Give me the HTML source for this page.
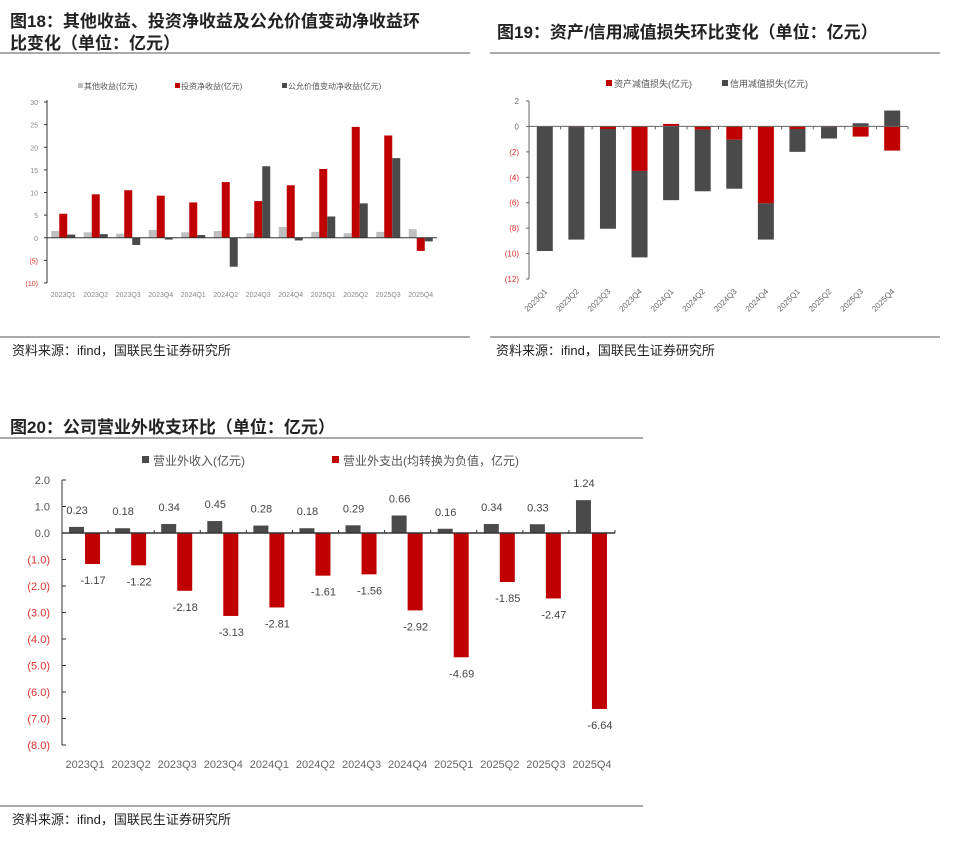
<!DOCTYPE html>
<html><head><meta charset="utf-8">
<style>
body{margin:0;background:#fff;width:963px;height:841px;overflow:hidden;font-family:"Liberation Sans","Noto Sans CJK SC",sans-serif;}
svg{position:absolute;left:0;top:0}
</style></head>
<body>
<svg id="s" width="963" height="841">
<g font-weight="bold" font-size="17" fill="#222">
<text x="10" y="27">图18：其他收益、投资净收益及公允价值变动净收益环</text>
<text x="10" y="49">比变化（单位：亿元）</text>
</g>
<line x1="0" y1="53" x2="470" y2="53" stroke="#555"/>
<text x="497" y="38" font-weight="bold" font-size="17" fill="#222">图19：资产/信用减值损失环比变化（单位：亿元）</text>
<line x1="490" y1="53" x2="940" y2="53" stroke="#555"/>
<line x1="0" y1="337" x2="470" y2="337" stroke="#555"/>
<line x1="490" y1="337" x2="940" y2="337" stroke="#555"/>
<text x="12" y="355" font-size="13" fill="#222">资料来源：ifind，国联民生证券研究所</text>
<text x="496" y="355" font-size="13" fill="#222">资料来源：ifind，国联民生证券研究所</text>
<text x="10" y="433" font-weight="bold" font-size="17" fill="#222">图20：公司营业外收支环比（单位：亿元）</text>
<line x1="0" y1="438" x2="643" y2="438" stroke="#555"/>
<line x1="0" y1="806" x2="643" y2="806" stroke="#555"/>
<text x="12" y="824" font-size="13" fill="#222">资料来源：ifind，国联民生证券研究所</text>
<g id="c18"></g>
<g id="c19"></g>
<g id="c20"></g>
</svg>
<script>
const cats=["2023Q1","2023Q2","2023Q3","2023Q4","2024Q1","2024Q2","2024Q3","2024Q4","2025Q1","2025Q2","2025Q3","2025Q4"];
const otherIncome=[1.5,1.2,0.9,1.7,1.2,1.5,1.0,2.4,1.3,1.0,1.3,1.9];
const investIncome=[5.3,9.6,10.5,9.3,7.8,12.3,8.1,11.6,15.2,24.5,22.6,-2.9];
const fvChange=[0.7,0.8,-1.6,-0.4,0.6,-6.4,15.8,-0.6,4.7,7.6,17.6,-0.8];
const ticks18=[30,25,20,15,10,5,0,-5,-10];
const assetLoss=[0,-0.05,-0.2,-3.5,0.2,-0.25,-1.05,-6.05,-0.2,-0.05,-0.8,-1.9];
const creditLoss=[-9.8,-8.85,-7.85,-6.8,-5.8,-4.85,-3.85,-2.85,-1.8,-0.9,0.25,1.25];
const ticks19=[2,0,-2,-4,-6,-8,-10,-12];
const nonOpIncome=[0.23,0.18,0.34,0.45,0.28,0.18,0.29,0.66,0.16,0.34,0.33,1.24];
const nonOpExpense=[-1.17,-1.22,-2.18,-3.13,-2.81,-1.61,-1.56,-2.92,-4.69,-1.85,-2.47,-6.64];
const ticks20=[2,1,0,-1,-2,-3,-4,-5,-6,-7,-8];
const NS="http://www.w3.org/2000/svg";
function el(p,t,a,txt){const e=document.createElementNS(NS,t);for(const k in a)e.setAttribute(k,a[k]);if(txt!==undefined)e.textContent=txt;p.appendChild(e);return e;}
function fmt(v,d){return v<0?"("+Math.abs(v).toFixed(d)+")":v.toFixed(d);}

// Chart 18
(function(){
const g=document.getElementById('c18');
const x0=47,x1=437,yT=102,yB=283,vT=30,vB=-10;
const y=v=>yT+(vT-v)*(yB-yT)/(vT-vB);const gw=(x1-x0)/cats.length;
el(g,'line',{x1:x0,y1:yT-2,x2:x0,y2:yB,stroke:'#333'});
ticks18.forEach(t=>{const e=el(g,'text',{x:x0-9,y:y(t)+3,'font-size':7,'text-anchor':'end',fill:t<0?'#e03030':'#888'},fmt(t,0));


el(g,'line',{x1:x0-3,y1:y(t),x2:x0,y2:y(t),stroke:'#333'});});
const ser=[[otherIncome,'#bfbfbf','other-income'],[investIncome,'#c00000','investment-income'],[fvChange,'#4a4a4a','fair-value-change']];
cats.forEach((c,i)=>{const cx=x0+gw*(i+0.5);
ser.forEach((s,j)=>{const v=s[0][i];const bx=cx-12+j*8;const r=el(g,'rect',{x:bx,y:Math.min(y(v),y(0)),width:8,height:Math.abs(y(v)-y(0)),fill:s[1]});

});
const t=el(g,'text',{x:cx,y:297,'font-size':7,'text-anchor':'middle',fill:'#888'},c);

});
el(g,'line',{x1:x0,y1:y(0),x2:x1,y2:y(0),stroke:'#333'});
const lg=[[78,'#bfbfbf','其他收益(亿元)'],[175,'#c00000','投资净收益(亿元)'],[282,'#4a4a4a','公允价值变动净收益(亿元)']];
lg.forEach(l=>{el(g,'rect',{x:l[0],y:83,width:5,height:5,fill:l[1]});const t=el(g,'text',{x:l[0]+6,y:89,'font-size':8,fill:'#555'},l[2]);

});
})();

// Chart 19
(function(){
const g=document.getElementById('c19');
const x0=529,x1=908,yT=101,yB=279,vT=2,vB=-12;
const y=v=>yT+(vT-v)*(yB-yT)/(vT-vB);const gw=(x1-x0)/cats.length;
el(g,'line',{x1:x0,y1:yT,x2:x0,y2:yB,stroke:'#666'});
ticks19.forEach(t=>{const e=el(g,'text',{x:x0-10,y:y(t)+3,'font-size':8,'text-anchor':'end',fill:t<0?'#e03030':'#666'},fmt(t,0));


el(g,'line',{x1:x0-3,y1:y(t),x2:x0,y2:y(t),stroke:'#666'});});
cats.forEach((c,i)=>{const cx=x0+gw*(i+0.5);const a=assetLoss[i],cr=creditLoss[i];
let pos=0,neg=0;
[[a,'#c00000','asset-impairment'],[cr,'#4a4a4a','credit-impairment']].forEach(s=>{const v=s[0];let b0,b1;
if(v>=0){b0=pos;b1=pos+v;pos=b1;}else{b0=neg;b1=neg+v;neg=b1;}
const r=el(g,'rect',{x:cx-8,y:Math.min(y(b0),y(b1)),width:16,height:Math.abs(y(b1)-y(b0)),fill:s[1]});

});
const lx=cx+3,ly=292;const t=el(g,'text',{x:lx,y:ly,'font-size':8,'text-anchor':'end',fill:'#666',transform:`rotate(-45 ${lx} ${ly})`},c);


el(g,'line',{x1:x0+gw*(i+1),y1:y(0),x2:x0+gw*(i+1),y2:y(0)+3,stroke:'#666'});});
el(g,'line',{x1:x0,y1:y(0),x2:x1,y2:y(0),stroke:'#666'});
[[606,'#c00000','资产减值损失(亿元)'],[722,'#4a4a4a','信用减值损失(亿元)']].forEach(l=>{el(g,'rect',{x:l[0],y:80,width:6,height:6,fill:l[1]});const t=el(g,'text',{x:l[0]+8,y:87,'font-size':9,fill:'#555'},l[2]);

});
})();

// Chart 20
(function(){
const g=document.getElementById('c20');
const x0=62,x1=615,yT=480,yB=745,vT=2,vB=-8;
const y=v=>yT+(vT-v)*(yB-yT)/(vT-vB);const gw=(x1-x0)/cats.length;
el(g,'line',{x1:x0,y1:yT,x2:x0,y2:yB,stroke:'#333'});
ticks20.forEach(t=>{const e=el(g,'text',{x:x0-12,y:y(t)+4,'font-size':11,'text-anchor':'end',fill:t<0?'#e03030':'#555'},fmt(t,1));


el(g,'line',{x1:x0,y1:y(t),x2:x0+4,y2:y(t),stroke:'#333'});});
cats.forEach((c,i)=>{const cx=x0+gw*(i+0.5);const a=nonOpIncome[i],b=nonOpExpense[i];
const r1=el(g,'rect',{x:cx-16,y:y(a),width:15,height:y(0)-y(a),fill:'#4a4a4a'});


const r2=el(g,'rect',{x:cx,y:y(0),width:15,height:y(b)-y(0),fill:'#c00000'});


const t1=el(g,'text',{x:cx-8,y:y(a)-13,'font-size':11,'text-anchor':'middle',fill:'#444'},a.toFixed(2));


const t2=el(g,'text',{x:cx+8,y:y(b)+20,'font-size':11,'text-anchor':'middle',fill:'#444'},b.toFixed(2));


const t3=el(g,'text',{x:cx,y:768,'font-size':11,'text-anchor':'middle',fill:'#666'},c);


el(g,'line',{x1:x0+gw*(i+1),y1:y(0)-3,x2:x0+gw*(i+1),y2:y(0),stroke:'#333'});});
el(g,'line',{x1:x0,y1:y(0),x2:x1,y2:y(0),stroke:'#333','stroke-width':1.5});
[[142,'#4a4a4a','营业外收入(亿元)'],[332,'#c00000','营业外支出(均转换为负值，亿元)']].forEach(l=>{el(g,'rect',{x:l[0],y:456,width:7,height:7,fill:l[1]});const t=el(g,'text',{x:l[0]+11,y:465,'font-size':12,fill:'#555'},l[2]);

});
})();
</script>
</body></html>
